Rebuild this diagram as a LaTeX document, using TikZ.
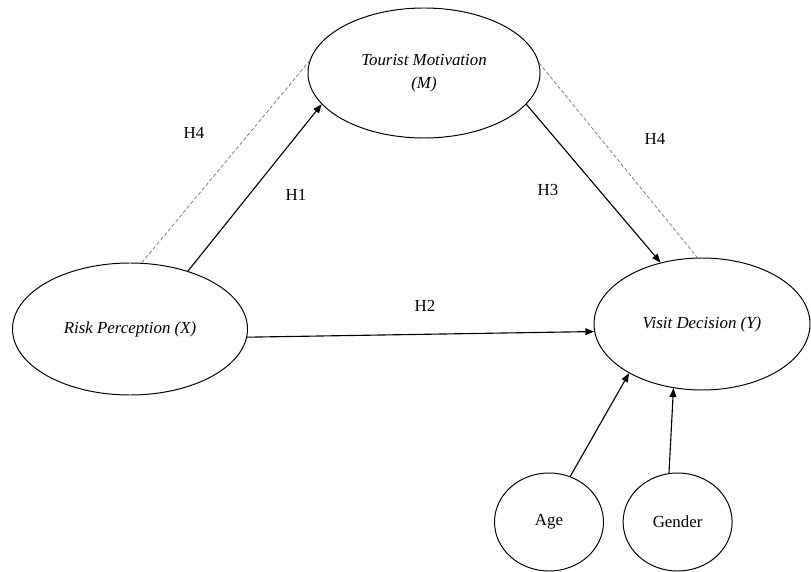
\documentclass[tikz,border=0pt]{standalone}
\usepackage{fontspec}
\setmainfont{Liberation Serif}
\usepackage{tikz}
\usetikzlibrary{positioning,shapes.geometric,arrows.meta}

\begin{document}
\begin{tikzpicture}[
    construct/.style={ellipse, draw, line width=0.7pt, inner sep=0pt,
                      align=center, font=\fontsize{12}{16}\selectfont\itshape},
    control/.style={ellipse, draw, line width=0.7pt, inner sep=0pt,
                    minimum width=2.725cm, minimum height=2.45cm,
                    font=\fontsize{12}{16}\selectfont},
    arr/.style={-{Triangle[length=2.2mm, width=1.7mm]}, line width=0.8pt},
    med/.style={draw=black!55, line width=0.5pt, dash pattern=on 2.6pt off 1.6pt},
    hyp/.style={font=\fontsize{12}{16}\selectfont},
]
\useasboundingbox (0,0) rectangle (20.275,-14.3);

\node[construct, minimum width=5.8cm, minimum height=3.25cm] (motiv)
    at (10.6,-1.825) {Tourist Motivation\\(M)};
\node[construct, minimum width=5.875cm, minimum height=3.3cm] (risk)
    at (3.25,-8.225) {Risk Perception (X)};
\node[construct, minimum width=5.4cm, minimum height=3.3cm] (visit)
    at (17.55,-8.1) {Visit Decision (Y)};
\node[control] (age)    at (13.725,-13.05) {Age};
\node[control] (gender) at (16.94,-13.05)  {Gender};

\node[hyp] (h4a) at (4.85,-3.325)   {H4};
\node[hyp] (h1)  at (7.4,-4.875)    {H1};
\node[hyp] (h2)  at (10.625,-7.65)  {H2};
\node[hyp] (h3)  at (13.7,-4.75)    {H3};
\node[hyp] (h4b) at (16.375,-3.475) {H4};

\draw[arr] (risk.45)   -- (motiv.197);
\draw[arr] (risk.356)  -- (visit.184);
\draw[arr] (motiv.343) -- (visit.124);
\draw[arr] (age.65)    -- (visit.214);
\draw[arr] (gender.100) -- (visit.246);
\draw[med] (risk.80)   -- (motiv.174);
\draw[med] (motiv.5)   -- (visit.94);
\end{tikzpicture}
\end{document}
